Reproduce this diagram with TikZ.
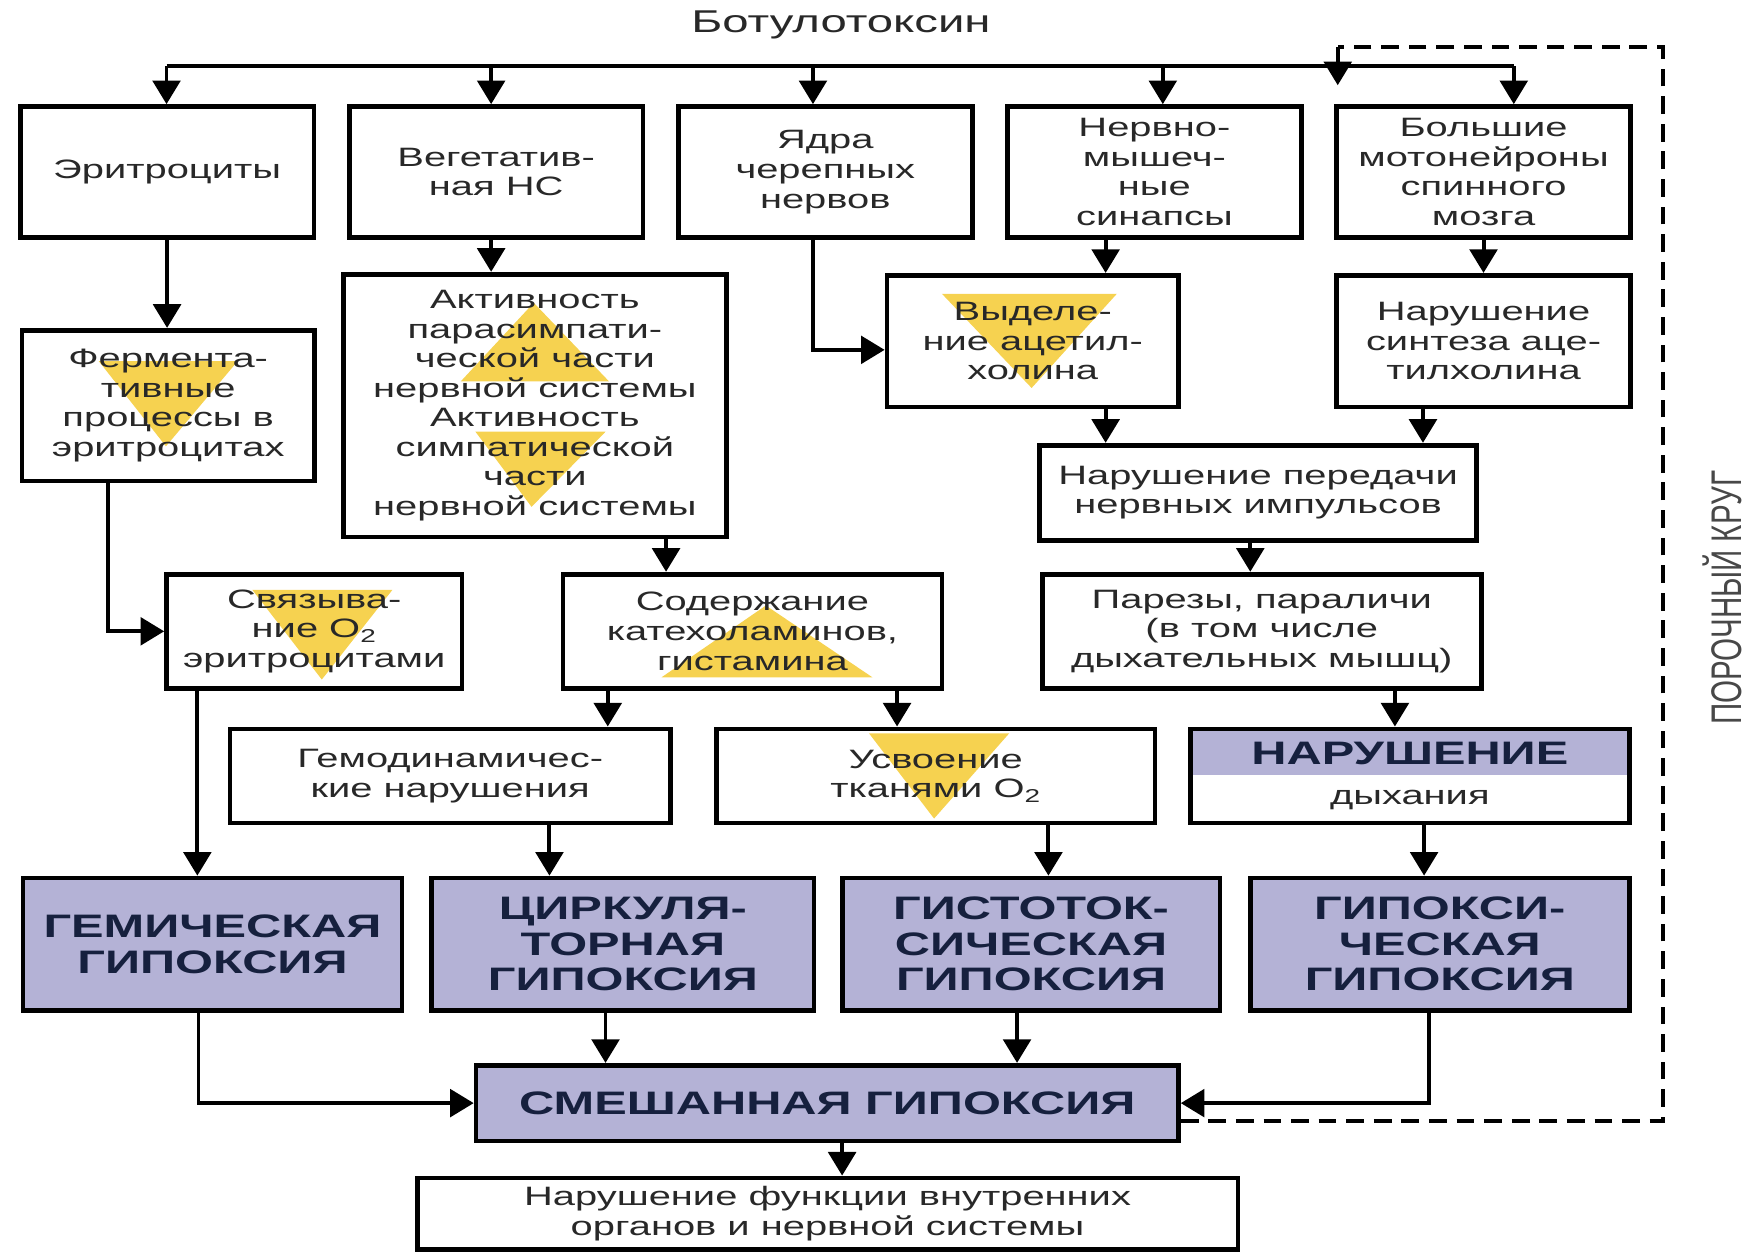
\documentclass[tikz,border=0pt]{standalone}
\usepackage{fontspec}
\setmainfont{Liberation Sans}[FakeStretch=1.5]
\newfontfamily\plainsans{Liberation Sans}
\usepackage{graphicx}
\usepackage{tikz}
\usetikzlibrary{arrows.meta}

\definecolor{hyp}{RGB}{180,178,214}
\definecolor{ink}{RGB}{40,40,40}
\definecolor{navy}{RGB}{22,32,62}
\definecolor{yel}{RGB}{246,210,80}

\tikzset{
  sz/.style 2 args={minimum width=#1, minimum height=#2},
  box/.style={draw=black, line width=2.4pt, align=center, inner sep=0pt, text=ink,
    font=\fontsize{13.5}{15}\selectfont},
  hypbox/.style={box, fill=hyp, text=navy, font=\bfseries\fontsize{16.5}{18}\selectfont},
  link/.style={->, line width=2pt},
  loopline/.style={line width=2pt, dash pattern=on 9pt off 5pt},
  tri/.style={fill=yel}
}

\begin{document}
\begin{tikzpicture}[x=0.02cm,y=-0.02cm,>={Triangle[length=12pt,width=14pt]}]
    \useasboundingbox (0,0) rectangle (1566,1117.5);
    % Yellow markers (behind text)
    \fill[tri] (88,322) -- (212,322) -- (148,398) -- cycle;
    \fill[tri] (476,270) -- (543,340) -- (411,340) -- cycle;
    \fill[tri] (424,385) -- (540,385) -- (474,452) -- cycle;
    \fill[tri] (840,262) -- (996,262) -- (920,346) -- cycle;
    \fill[tri] (225,526) -- (350,526) -- (287,606) -- cycle;
    \fill[tri] (683,540) -- (778,604) -- (590,604) -- cycle;
    \fill[tri] (775,654) -- (900,654) -- (833,730) -- cycle;
    % Title
    \node[text=ink,font=\fontsize{16}{18}\selectfont] (tox) at (750,22) {Ботулотоксин};
    % First row
    \node[box,sz={5.24cm}{2.34cm}] (eri) at (149,153.5) {Эритроциты};
    \node[box,sz={5.24cm}{2.34cm}] (veg) at (442.5,153.5) {Вегетатив-\\ная НС};
    \node[box,sz={5.24cm}{2.34cm}] (yad) at (736,153.5) {Ядра\\черепных\\нервов};
    \node[box,sz={5.24cm}{2.34cm}] (nerv) at (1029.5,153.5) {Нервно-\\мышеч-\\ные\\синапсы};
    \node[box,sz={5.24cm}{2.34cm}] (motn) at (1323,153.5) {Большие\\мотонейроны\\спинного\\мозга};
    % Second row
    \node[box,sz={5.22cm}{2.69cm}] (ferm) at (150,361.75) {Фермента-\\тивные\\процессы в\\эритроцитах};
    \node[box,sz={6.84cm}{4.69cm}] (akt) at (477,361.75) {Активность\\парасимпати-\\ческой части\\нервной системы\\Активность\\симпатической\\части\\нервной системы};
    \node[box,sz={5.2cm}{2.35cm}] (vyd) at (921,304.25) {Выделе-\\ние ацетил-\\холина};
    \node[box,sz={5.24cm}{2.35cm}] (sint) at (1323,304.25) {Нарушение\\синтеза аце-\\тилхолина};
    \node[box,sz={7.8cm}{1.7cm}] (pered) at (1122,439.5) {Нарушение передачи\\нервных импульсов};
    % Third row
    \node[box,sz={5.27cm}{2.04cm}] (svyaz) at (280.25,563) {Связыва-\\ние O\textsubscript{2}\\эритроцитами};
    \node[box,sz={6.76cm}{2.04cm}] (soder) at (671,563) {Содержание\\катехоламинов,\\гистамина};
    \node[box,sz={7.83cm}{2.04cm}] (parez) at (1125.25,563) {Парезы, параличи\\(в том числе\\дыхательных мышц)};
    % Fourth row
    \node[box,sz={7.86cm}{1.68cm}] (gemod) at (401.5,692) {Гемодинамичес-\\кие нарушения};
    \node[box,sz={7.82cm}{1.68cm}] (usv) at (834.5,692) {Усвоение\\тканями O\textsubscript{2}};
    \node[box,sz={7.83cm}{1.68cm},path picture={\fill[hyp] (path picture bounding box.north west) rectangle ([yshift=-0.83cm]path picture bounding box.north east);}] (dyh) at (1257.3,692)
      {{\color{navy}\bfseries\fontsize{16.5}{18}\selectfont НАРУШЕНИЕ}\\[5pt]дыхания};
    % Hypoxia types
    \node[hypbox,sz={6.76cm}{2.36cm}] (gem) at (189.5,842) {ГЕМИЧЕСКАЯ\\ГИПОКСИЯ};
    \node[hypbox,sz={6.82cm}{2.36cm}] (cirk) at (555.5,842) {ЦИРКУЛЯ-\\ТОРНАЯ\\ГИПОКСИЯ};
    \node[hypbox,sz={6.74cm}{2.36cm}] (gist) at (919.5,842) {ГИСТОТОК-\\СИЧЕСКАЯ\\ГИПОКСИЯ};
    \node[hypbox,sz={6.76cm}{2.36cm}] (gipo) at (1284,842) {ГИПОКСИ-\\ЧЕСКАЯ\\ГИПОКСИЯ};
    % Mixed hypoxia and outcome
    \node[hypbox,sz={12.53cm}{1.35cm}] (smesh) at (737.75,983.75) {СМЕШАННАЯ ГИПОКСИЯ};
    \node[box,sz={14.64cm}{1.28cm}] (final) at (738,1082.5) {Нарушение функции внутренних\\органов и нервной системы};
    % Vicious circle label
    \node[rotate=90,text=ink!85] (circ) at (1536,533) {\scalebox{1}[1.45]{\plainsans\fontsize{15}{18}\selectfont ПОРОЧНЫЙ КРУГ}};
    % Distribution line
    \coordinate (busL) at (148.5,59);
    \coordinate (busR) at (1350,59);
    \draw[line width=2pt] (busL) -- (busR);
    \draw[link] (busL) -- (eri.north -| busL);
    \draw[link] (busL -| 438,0) -- (veg.north -| 438,0);
    \draw[link] (busL -| 725,0) -- (yad.north -| 725,0);
    \draw[link] (busL -| 1037,0) -- (nerv.north -| 1037,0);
    \draw[link] (busR) -- (motn.north -| busR);
    % Arrows between boxes
    \draw[link] (eri.south) -- (ferm.north -| eri.south);
    \draw[link] (veg.south -| 438,0) -- (akt.north -| 438,0);
    \draw[link] (yad.south -| 725,0) |- (vyd.west |- 0,312);
    \draw[link] (nerv.south -| 986,0) -- (vyd.north -| 986,0);
    \draw[link] (motn.south) -- (sint.north);
    \draw[link] (vyd.south -| 986,0) -- (pered.north -| 986,0);
    \draw[link] (sint.south -| 1269,0) -- (pered.north -| 1269,0);
    \draw[link] (pered.south -| 1115,0) -- (parez.north -| 1115,0);
    \draw[link] (parez.south -| 1244,0) -- (dyh.north -| 1244,0);
    \draw[link] (ferm.south -| 96,0) |- (svyaz.west);
    \draw[link] (akt.south -| 594,0) -- (soder.north -| 594,0);
    \draw[link] (soder.south -| 542,0) -- (gemod.north -| 542,0);
    \draw[link] (soder.south -| 800,0) -- (usv.north -| 800,0);
    \draw[link] (svyaz.south -| 176,0) -- (gem.north -| 176,0);
    \draw[link] (gemod.south -| 490,0) -- (cirk.north -| 490,0);
    \draw[link] (usv.south -| 935,0) -- (gist.north -| 935,0);
    \draw[link] (dyh.south -| 1270,0) -- (gipo.north -| 1270,0);
    \draw[link] (gem.south -| 177,0) |- (smesh.west);
    \draw[link] (cirk.south -| 540,0) -- (smesh.north -| 540,0);
    \draw[link] (gist.south -| 907,0) -- (smesh.north -| 907,0);
    \draw[link] (gipo.south -| 1274,0) |- (smesh.east);
    \draw[link] (smesh.south -| 751,0) -- (final.north -| 751,0);
    % Feedback loop
    \coordinate (loopR) at (1483,42);
    \coordinate (loopL) at (1193,42);
    \coordinate (loopT) at (1193,76);
    \draw[loopline] (smesh.east |- 0,1000) -| (loopR) -- (loopL);
    \draw[link] (loopL) -- (loopT);
\end{tikzpicture}
\end{document}
